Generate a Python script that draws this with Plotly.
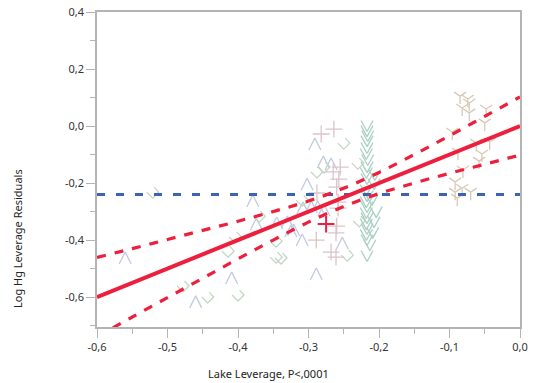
import plotly.graph_objects as go

# ---- data: lake leverage (x) vs Log Hg leverage residual (y), by lake marker ----
up_x = [-0.560, -0.460, -0.409, -0.379, -0.374, -0.345, -0.321, -0.291, -0.279, -0.268,
        -0.302, -0.308, -0.296, -0.287, -0.278, -0.330, -0.325, -0.309, -0.252, -0.289]
up_y = [-0.463, -0.617, -0.533, -0.263, -0.344, -0.340, -0.365, -0.063, -0.126, -0.133,
        -0.204, -0.288, -0.284, -0.284, -0.295, -0.337, -0.368, -0.400, -0.411, -0.519]

cup_x = [-0.521, -0.370, -0.404, -0.414, -0.346, -0.346, -0.478, -0.443, -0.400, -0.250,
         -0.288, -0.278, -0.309, -0.230, -0.245, -0.228, -0.339]
cup_y = [-0.232, -0.316, -0.389, -0.439, -0.404, -0.460, -0.561, -0.600, -0.593, -0.060,
         -0.161, -0.144, -0.260, -0.130, -0.453, -0.333, -0.463]

down_x = [-0.217, -0.217, -0.216, -0.217, -0.217, -0.218, -0.216, -0.217, -0.218, -0.206,
          -0.217, -0.207, -0.218, -0.217, -0.210, -0.218, -0.217, -0.204, -0.218, -0.217,
          -0.207, -0.218, -0.217, -0.209, -0.218, -0.217, -0.213, -0.217]
down_y = [0.000, -0.018, -0.035, -0.053, -0.077, -0.098, -0.119, -0.144, -0.165, -0.172,
          -0.186, -0.204, -0.225, -0.246, -0.260, -0.267, -0.284, -0.302, -0.305, -0.323,
          -0.337, -0.344, -0.361, -0.375, -0.382, -0.400, -0.418, -0.456]

plus_x = [-0.282, -0.264, -0.255, -0.265, -0.257, -0.260, -0.288, -0.258, -0.258, -0.260,
          -0.261, -0.289, -0.268, -0.261]
plus_y = [-0.028, -0.011, -0.144, -0.161, -0.186, -0.214, -0.235, -0.267, -0.288, -0.351,
          -0.375, -0.400, -0.442, -0.460]

sel_x = [-0.275]
sel_y = [-0.344]

ypt_x = [-0.085, -0.074, -0.072, -0.082, -0.072, -0.048, -0.050, -0.096, -0.062, -0.043,
         -0.088, -0.054, -0.058, -0.081, -0.092, -0.082, -0.070, -0.092, -0.089]
ypt_y = [0.105, 0.095, 0.081, 0.063, 0.046, 0.060, 0.011, -0.021, -0.060, -0.056,
         -0.091, -0.098, -0.123, -0.154, -0.196, -0.218, -0.232, -0.232, -0.253]

# fitted line and its confidence curves
fit_x = [-0.6, 0.0]
fit_y = [-0.6, 0.0]
ci_x = [-0.60, -0.55, -0.50, -0.45, -0.40, -0.35, -0.30, -0.25, -0.20, -0.15, -0.10, -0.05, 0.00]
ci_hi = [-0.461, -0.430, -0.398, -0.366, -0.334, -0.300, -0.263, -0.218, -0.163, -0.100, -0.034, 0.034, 0.102]
ci_lo = [-0.739, -0.670, -0.602, -0.534, -0.466, -0.400, -0.337, -0.282, -0.237, -0.200, -0.166, -0.134, -0.102]
mean_y = -0.24

x_ticks = [-0.6, -0.5, -0.4, -0.3, -0.2, -0.1, 0.0]
x_labels = ["-0,6", "-0,5", "-0,4", "-0,3", "-0,2", "-0,1", "0,0"]
y_ticks = [-0.6, -0.4, -0.2, 0.0, 0.2, 0.4]
y_labels = ["-0,6", "-0,4", "-0,2", "0,0", "0,2", "0,4"]

# ---- layout geometry ----
W, H = 537, 383
ML, MR, MT, MB = 97, 17, 12, 56
XR = [-0.6, 0.0]
YR = [-0.705, 0.4]
px_per_x = (W - ML - MR) / (XR[1] - XR[0])
px_per_y = (H - MT - MB) / (YR[1] - YR[0])


def glyph_path(xs, ys, shape):
    """Turn points into open polyline glyphs; shape offsets are in pixels (up positive)."""
    gx, gy = [], []
    for x, y in zip(xs, ys):
        for dx, dy in shape:
            gx.append(x + dx / px_per_x)
            gy.append(y + dy / px_per_y)
        gx.append(None)
        gy.append(None)
    return gx, gy


CHEV_UP = [(-6, -6), (0, 6), (6, -6)]
CHEV_DOWN = [(-6, 5.5), (0, -5.5), (6, 5.5)]
CUP = [(-6, 0), (0, -6), (6, 0), (1.5, 5)]

fig = go.Figure()

mk_w = 1.3
for xs, ys, shape, col in [
    (up_x, up_y, CHEV_UP, "#c2c9e2"),
    (cup_x, cup_y, CUP, "#c2d7c2"),
    (down_x, down_y, CHEV_DOWN, "#aad1c3"),
]:
    gx, gy = glyph_path(xs, ys, shape)
    fig.add_trace(go.Scatter(x=gx, y=gy, mode="lines", line=dict(color=col, width=mk_w),
                             hoverinfo="skip", showlegend=False))

fig.add_trace(go.Scatter(x=plus_x, y=plus_y, mode="markers",
                         marker=dict(symbol="cross-thin-open", size=12, color="#dcc4c9",
                                     line=dict(color="#dcc4c9", width=mk_w)),
                         showlegend=False))
fig.add_trace(go.Scatter(x=ypt_x, y=ypt_y, mode="markers",
                         marker=dict(symbol="y-down-open", size=10, color="#d8c9b6",
                                     line=dict(color="#d8c9b6", width=mk_w)),
                         showlegend=False))

# horizontal mean line
fig.add_trace(go.Scatter(x=XR, y=[mean_y, mean_y], mode="lines",
                         line=dict(color="#3c64b4", width=3, dash="8px,11px"),
                         showlegend=False))
# confidence curves and fit
red = "#ee1f3d"
for cy in (ci_hi, ci_lo):
    fig.add_trace(go.Scatter(x=ci_x, y=cy, mode="lines", line_shape="spline",
                             line=dict(color=red, width=3.2, dash="9px,9px"),
                             showlegend=False))
fig.add_trace(go.Scatter(x=fit_x, y=fit_y, mode="lines",
                         line=dict(color=red, width=4), showlegend=False))
# highlighted row
fig.add_trace(go.Scatter(x=sel_x, y=sel_y, mode="markers",
                         marker=dict(symbol="cross-thin-open", size=12, color=red,
                                     line=dict(color=red, width=2)),
                         showlegend=False))

axis_common = dict(
    showgrid=False, zeroline=False, showline=True, linecolor="#b4b4b4", linewidth=1.5,
    mirror=True, ticks="outside", ticklen=9, tickcolor="#b4b4b4", tickwidth=1.3,
    automargin=False,
    tickfont=dict(family="Noto Sans", size=11, color="#333333"),
)
fig.update_xaxes(range=XR, tickvals=x_ticks, ticktext=x_labels,
                 minor=dict(dtick=0.05, tick0=0, ticklen=5, tickcolor="#b4b4b4",
                            tickwidth=1.3, ticks="outside"),
                 **axis_common)
fig.update_yaxes(range=YR, tickvals=y_ticks, ticktext=y_labels,
                 minor=dict(dtick=0.1, tick0=0, ticklen=5, tickcolor="#b4b4b4",
                            tickwidth=1.3, ticks="outside"),
                 **axis_common)

title_font = dict(family="Noto Sans", size=11, color="#222222")
fig.add_annotation(text="Lake Leverage, P<,0001", xref="paper", yref="paper",
                   x=(268 - ML) / (W - ML - MR), y=(H - MB - 373) / (H - MT - MB),
                   xanchor="center", yanchor="middle", showarrow=False, font=title_font)
fig.add_annotation(text="Log Hg Leverage Residuals", xref="paper", yref="paper",
                   x=(17 - ML) / (W - ML - MR), y=(H - MB - 239) / (H - MT - MB),
                   textangle=-90, xanchor="center", yanchor="middle", showarrow=False,
                   font=title_font)

fig.update_layout(
    width=W, height=H, margin=dict(l=ML, r=MR, t=MT, b=MB),
    paper_bgcolor="white", plot_bgcolor="white", showlegend=False,
)

fig.write_html("out.html")
